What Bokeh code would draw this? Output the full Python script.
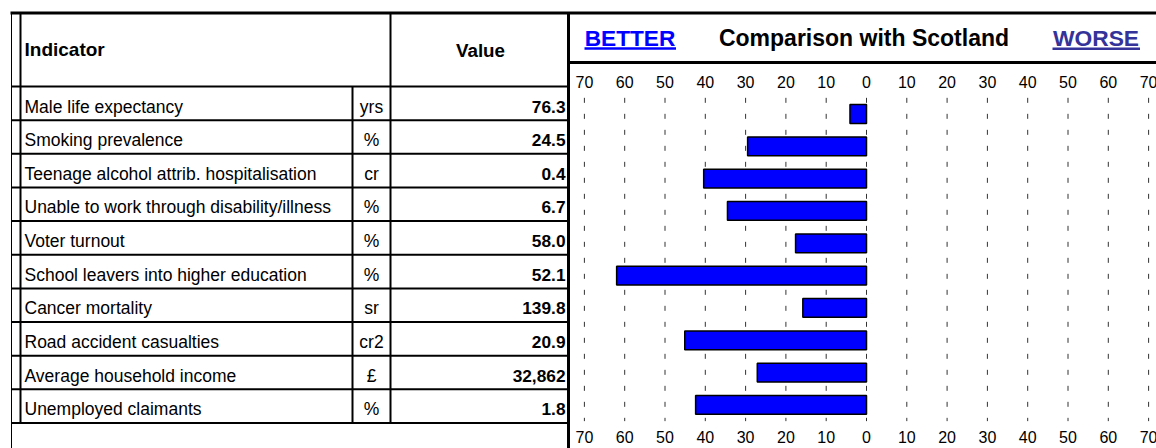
from bokeh.plotting import figure
from bokeh.models import Range1d
from bokeh.core.properties import value
from bokeh.embed import file_html
from bokeh.resources import INLINE

# ---------------- data ----------------
indicators = [
    "Male life expectancy",
    "Smoking prevalence",
    "Teenage alcohol attrib. hospitalisation",
    "Unable to work through disability/illness",
    "Voter turnout",
    "School leavers into higher education",
    "Cancer mortality",
    "Road accident casualties",
    "Average household income",
    "Unemployed claimants",
]
units = ["yrs", "%", "cr", "%", "%", "%", "sr", "cr2", "£", "%"]
values_text = ["76.3", "24.5", "0.4", "6.7", "58.0", "52.1", "139.8", "20.9", "32,862", "1.8"]
# comparison with Scotland (negative = better side)
comparison = [-4.1, -29.5, -40.4, -34.5, -17.6, -62.0, -15.8, -45.1, -27.1, -42.4]
tick_values = [-70, -60, -50, -40, -30, -20, -10, 0, 10, 20, 30, 40, 50, 60, 70]
tick_labels = [str(abs(v)) for v in tick_values]
header_indicator = "Indicator"
header_value = "Value"
header_better = "BETTER"
header_title = "Comparison with Scotland"
header_worse = "WORSE"

# ---------------- layout constants ----------------
W, H = 1156, 448
FONT = value("Liberation Sans")
TDY = -7.0             # text baseline correction
ZERO_PX = 866.0        # pixel of comparison 0
PX_PER_UNIT = 4.03
ROW0_PX = 113.5        # pixel centre of first chart row
ROW_PX = 32.33         # chart row pitch
TROW0 = 86.0           # table header bottom line
TROW_H = 33.65         # table row height
TOP = 12.5
X_OUT, X_IN, X_UNIT, X_VAL, X_CHART = 11, 20, 352, 390, 568
N = len(indicators)
T_BOTTOM = TROW0 + TROW_H * N

p = figure(width=W, height=H, x_range=Range1d(0, W), y_range=Range1d(H, 0),
           output_backend="svg", toolbar_location=None, min_border=0,
           x_axis_type=None, y_axis_type=None)
p.outline_line_color = None
p.background_fill_color = "white"
p.border_fill_color = "white"
p.extra_x_ranges = {"cmp": Range1d(start=-ZERO_PX / PX_PER_UNIT, end=(W - ZERO_PX) / PX_PER_UNIT)}
p.extra_y_ranges = {"rows": Range1d(start=(H - ROW0_PX) / ROW_PX, end=-ROW0_PX / ROW_PX)}

# ---------------- table frame ----------------
p.segment(x0=[10], y0=[TOP], x1=[W], y1=[TOP], line_color="black", line_width=3)
p.segment(x0=[X_OUT], y0=[TOP], x1=[X_OUT], y1=[H], line_color="black", line_width=1)
p.segment(x0=[X_IN, X_VAL], y0=[TOP, TOP], x1=[X_IN, X_VAL], y1=[T_BOTTOM, T_BOTTOM],
          line_color="black", line_width=2)
p.segment(x0=[X_UNIT], y0=[TROW0], x1=[X_UNIT], y1=[T_BOTTOM], line_color="black", line_width=2)
p.segment(x0=[X_CHART], y0=[TOP], x1=[X_CHART], y1=[H], line_color="black", line_width=3)
p.segment(x0=[X_CHART], y0=[62], x1=[W], y1=[62], line_color="black", line_width=3)
row_lines = [TROW0 + TROW_H * k for k in range(N + 1)]
p.segment(x0=[X_OUT] * len(row_lines), y0=row_lines, x1=[X_CHART] * len(row_lines), y1=row_lines,
          line_color="black", line_width=2)

# ---------------- table texts ----------------
p.text(x=[24], y=[55.5 + TDY], text=[header_indicator], text_font=FONT, text_font_size=value("19px"),
       text_font_style="bold", text_align="left", text_baseline="alphabetic", text_color="black")
p.text(x=[480], y=[56.5 + TDY], text=[header_value], text_font=FONT, text_font_size=value("18.8px"),
       text_font_style="bold", text_align="center", text_baseline="alphabetic", text_color="black")
base_y = [TROW0 + TROW_H * i + 27.0 + TDY for i in range(N)]
p.text(x=[24] * N, y=base_y, text=indicators, text_font=FONT, text_font_size=value("17.5px"),
       text_align="left", text_baseline="alphabetic", text_color="black")
p.text(x=[371] * N, y=base_y, text=units, text_font=FONT, text_font_size=value("17.5px"),
       text_align="center", text_baseline="alphabetic", text_color="black")
p.text(x=[565] * N, y=base_y, text=values_text, text_font=FONT, text_font_size=value("17.3px"),
       text_font_style="bold", text_align="right", text_baseline="alphabetic", text_color="black")

# ---------------- chart header ----------------
p.text(x=[629.5], y=[44.3 + TDY], text=[header_better], text_font=FONT, text_font_size=value("22.7px"),
       text_font_style="bold", text_align="center", text_baseline="alphabetic", text_color="#0000FF")
p.segment(x0=[584], y0=[48], x1=[675.5], y1=[48], line_color="#0000FF", line_width=2.5)
p.text(x=[863.5], y=[44.3 + TDY], text=[header_title], text_font=FONT, text_font_size=value("23px"),
       text_font_style="bold", text_align="center", text_baseline="alphabetic", text_color="black")
p.text(x=[1095.5], y=[44.3 + TDY], text=[header_worse], text_font=FONT, text_font_size=value("22.8px"),
       text_font_style="bold", text_align="center", text_baseline="alphabetic", text_color="#333399")
p.segment(x0=[1052], y0=[48.3], x1=[1139.5], y1=[48.3], line_color="#333399", line_width=2.5)

# ---------------- chart ----------------
rows = list(range(N))
p.segment(x0=tick_values, y0=[-0.5] * len(tick_values), x1=tick_values, y1=[N - 0.5] * len(tick_values),
          x_range_name="cmp", y_range_name="rows", line_color="#333333", line_width=1,
          line_dash="5 11")
p.hbar(y=rows, left=comparison, right=[0] * N, height=0.58, x_range_name="cmp", y_range_name="rows",
       fill_color="#0000FF", line_color="black", line_width=1.5)
p.text(x=tick_values, y=[88 + TDY] * len(tick_values), text=tick_labels, x_range_name="cmp",
       text_font=FONT, text_font_size=value("16px"), text_align="center",
       text_baseline="alphabetic", text_color="black")
p.text(x=tick_values, y=[443.5 + TDY] * len(tick_values), text=tick_labels, x_range_name="cmp",
       text_font=FONT, text_font_size=value("16px"), text_align="center",
       text_baseline="alphabetic", text_color="black")

open("out.html", "w", encoding="utf-8").write(file_html(p, INLINE))
